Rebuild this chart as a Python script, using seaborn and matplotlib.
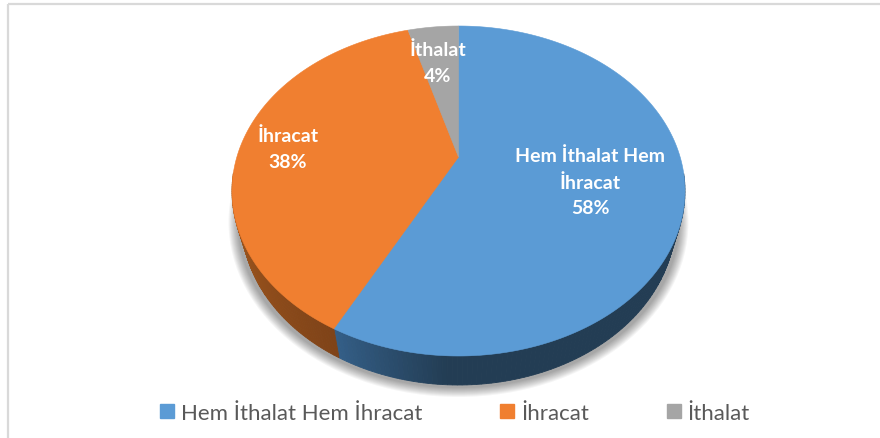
## 3D style pie of trade type shares
import numpy as np
import matplotlib
matplotlib.use('Agg')
import matplotlib.pyplot as plt
from matplotlib.patches import Patch, Ellipse, Rectangle
import seaborn as sns

categories = ['Hem İthalat Hem İhracat', 'İhracat', 'İthalat']
shares = [57.6, 38.0, 4.4]
slice_labels = ['Hem İthalat Hem\nİhracat', 'İhracat', 'İthalat']

colors = sns.color_palette(['#5b9bd5', '#f07f30', '#a5a5a5'])
wall_light = ['#345f88', '#aa5d20', '#6b6b6b']
wall_dark = ['#233d54', '#7f4318', '#555555']

sns.set_theme(style='white')
plt.rcParams['font.family'] = ['Lato', 'DejaVu Sans']

# pixel canvas
W, H = 880, 439
CX, CY = 458.5, 192
RX, RY = 226.5, 165
APEX = 34       # wedge tip sits this far above the ellipse centre
DEPTH_CY, DEPTH_RX = 221, 217
K = APEX / RY
A = RX * np.sqrt(1 - K ** 2)


def project(theta):
    # theta in degrees from pie(), unit disc seen in perspective
    t = np.radians(theta)
    x, y = np.cos(t), np.sin(t)
    w = 1 + K * y
    return CX + A * x / w, CY - (RY * y + APEX) / w


def to_wall(theta):
    # same rim point on the lower ellipse
    px, py = project(theta)
    return CX + (px - CX) * DEPTH_RX / RX, py + DEPTH_CY - CY


fig = plt.figure(figsize=(W / 100, H / 100), dpi=100)
ax = fig.add_axes([0, 0, 1, 1])

# let pie work out the slice angles, then redraw them tilted
wedges, _ = ax.pie(shares, startangle=90, counterclock=False, colors=colors)
angles = [(w.theta1, w.theta2) for w in wedges]
for w in wedges:
    w.remove()

ax.set_xlim(0, W)
ax.set_ylim(H, 0)
ax.set_aspect('auto')
ax.axis('off')

# frame
ax.add_patch(Rectangle((8, 5), W, H, fc='none', ec='#d9d9d9', lw=1.6))

# soft shadow
for i in range(10):
    ax.add_patch(Ellipse((CX, DEPTH_CY + 2), 2 * (DEPTH_RX + 13 - i), 2 * (RY + 10 - i),
                         fc='#000000', ec='none', alpha=0.04, zorder=1))

# side wall, both slices share the front edge where the shade changes
edge = angles[0][0] % 360
for i, (t1, t2) in enumerate(angles):
    steps = np.linspace(t1, t2, 200)
    c1 = np.array(matplotlib.colors.to_rgb(wall_light[i]))
    c2 = np.array(matplotlib.colors.to_rgb(wall_dark[i]))
    for j in range(len(steps) - 1):
        a, b = steps[j], steps[j + 1]
        mid = (a + b) / 2
        if np.sin(np.radians(mid)) > -0.1:
            continue
        d = abs(mid % 360 - edge)
        if i == 0:
            f = np.clip(d / 25, 0, 1)   # light right after the edge
        else:
            f = np.clip(1 - d / 60, 0, 1)   # dark next to the edge
        col = c1 + (c2 - c1) * f
        p1, p2 = project(a), project(b)
        q1, q2 = to_wall(a), to_wall(b)
        ax.fill([p1[0], p2[0], q2[0], q1[0]], [p1[1], p2[1], q2[1], q1[1]],
                color=col, lw=0.6, zorder=2)

# top face
for i, (t1, t2) in enumerate(angles):
    steps = np.linspace(t1, t2, 300)
    px, py = project(steps)
    ax.fill(np.r_[CX, px], np.r_[CY - APEX, py], color=colors[i], lw=0.4, zorder=3)

# slice labels
label_pos = [(590, 182), (288, 149), (438, 63)]
for text, val, (x, y) in zip(slice_labels, shares, label_pos):
    ax.text(x, y, f'{text}\n{val:.0f}%', color='white', fontsize=14, fontweight='bold',
            ha='center', va='center', linespacing=1.6, zorder=4)

handles = [Patch(color=c, label=n) for c, n in zip(colors, categories)]
ax.legend(handles=handles, ncol=3, loc='center', bbox_to_anchor=(455 / W, 1 - 414 / H),
          frameon=False, fontsize=16, labelcolor='#595959', handlelength=0.63,
          handleheight=0.63, handletextpad=0.3, columnspacing=3.5)

fig.savefig('out.png', dpi=100)
plt.close(fig)
